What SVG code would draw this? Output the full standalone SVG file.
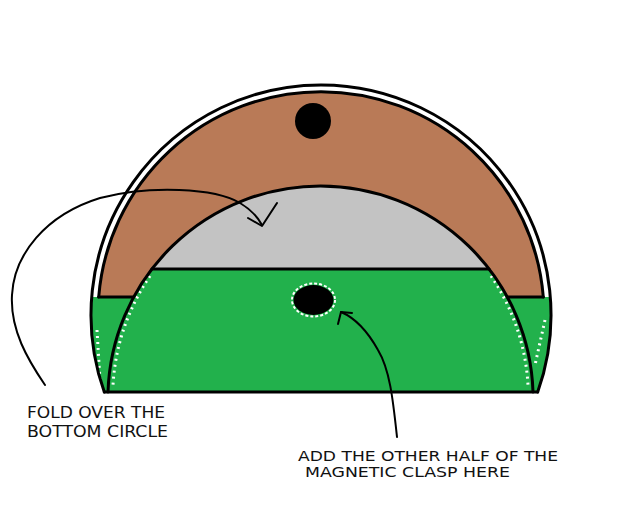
<svg xmlns="http://www.w3.org/2000/svg" width="640" height="518" viewBox="0 0 640 518">
<style>
.ln{fill:none;stroke:#000;stroke-width:3;stroke-linecap:round;stroke-linejoin:round}
.ar{fill:none;stroke:#000;stroke-width:2;stroke-linecap:round;stroke-linejoin:round}
.spk{fill:none;stroke:#fff;stroke-width:3;stroke-dasharray:2 4}
.lbl{font-family:"DejaVu Sans Condensed","DejaVu Sans","Liberation Sans",sans-serif;fill:#111}
.f1{font-size:15.5px}
.f2{font-size:14px}
</style>
<rect width="640" height="518" fill="#fff"/>
<g id="flap">
<path d="M98.7 297 A223 223 0 0 1 543.3 297 L507.2 297 A212.6 212.6 0 0 0 133.8 297 Z" fill="#B97A57"/>
<circle cx="313" cy="121" r="18" fill="#000"/>
</g>
<g id="fold-area">
<path d="M152 269 A212.6 212.6 0 0 1 489 269 Z" fill="#C3C3C3"/>
</g>
<g id="base">
<path d="M91.7 297 L133.8 297 A212.6 212.6 0 0 1 152 269 L489 269 A212.6 212.6 0 0 1 507.2 297 L550.3 297 A230 230 0 0 1 537.7 392 L104.3 392 A230 230 0 0 1 91.7 297 Z" fill="#22B14C"/>
<path class="spk" d="M150 276 A215 215 0 0 0 113 385"/>
<path class="spk" d="M491 276 A215 215 0 0 1 528 385"/>
<path class="spk" d="M97 330 L100 380" stroke-dasharray="3 6"/>
<path class="spk" d="M545 320 L535 365" stroke-dasharray="3 6"/>
<ellipse cx="313.5" cy="300" rx="21.5" ry="16.5" fill="none" stroke="#fff" stroke-width="2" stroke-dasharray="3 2"/>
<ellipse cx="313.5" cy="300" rx="20" ry="15" fill="#000"/>
</g>
<g id="outlines">
<path class="ln" d="M104.3 392 A230 230 0 1 1 537.7 392"/>
<path class="ln" d="M98.7 297 A223 223 0 0 1 543.3 297"/>
<path class="ln" d="M108 392 A212.6 212.6 0 0 1 533 392"/>
<path class="ln" d="M98.7 297 L133.8 297 M507.2 297 L543.3 297"/>
<path class="ln" d="M152 269 L489 269" stroke-width="2.5"/>
<path class="ln" d="M104.3 392 L537.7 392"/>
</g>
<g id="connectors">
<path class="ar" d="M45 385 C28 360 10 330 12 295 C14 255 45 215 100 198 C150 185 215 188 240 203 Q255 212 262 225"/>
<path class="ar" d="M248 218 L262 226 L277 203"/>
<path class="ar" stroke-width="2.5" d="M397 437 C393 400 390 370 378 350 C368 332 355 318 341 312"/>
<path class="ar" stroke-width="2.5" d="M338 324 L341 312 L352 313"/>
</g>
<g id="label-fold">
<text class="lbl f1" x="27" y="418" textLength="138" lengthAdjust="spacingAndGlyphs">FOLD OVER THE</text>
<text class="lbl f1" x="27" y="437" textLength="141" lengthAdjust="spacingAndGlyphs">BOTTOM CIRCLE</text>
</g>
<g id="label-clasp">
<text class="lbl f2" x="298" y="461" textLength="260" lengthAdjust="spacingAndGlyphs">ADD THE OTHER HALF OF THE</text>
<text class="lbl f2" x="305" y="477" textLength="205" lengthAdjust="spacingAndGlyphs">MAGNETIC CLASP HERE</text>
</g>
</svg>
